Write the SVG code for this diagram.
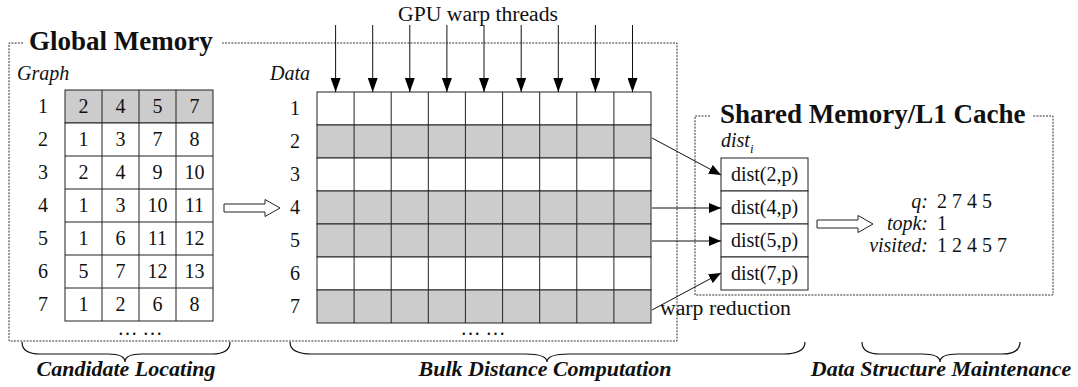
<svg xmlns="http://www.w3.org/2000/svg" width="1078" height="387" viewBox="0 0 1078 387" font-family="'Liberation Serif','DejaVu Serif',serif">
<defs>
<style>
text{font-family:'Liberation Serif','DejaVu Serif',serif;fill:#111}
.t{font-size:20px}
.c{text-anchor:middle}
.it{font-style:italic}
.ttl{font-size:27px;font-weight:bold}
.bl{font-size:22px;font-weight:bold;font-style:italic;text-anchor:middle}
.dot{fill:none;stroke:#333;stroke-width:1;stroke-dasharray:2 1.2}
.cell{stroke:#222;stroke-width:1}
.w{fill:#fff}
.g{fill:#cccccc}
.ln{stroke:#111;stroke-width:1;fill:none}
.blk{fill:#fff;stroke:#222;stroke-width:1}
.br{fill:none;stroke:#111;stroke-width:1.2}
</style>
<marker id="ah" viewBox="0 0 12 10" refX="12" refY="5" markerWidth="12" markerHeight="10" markerUnits="userSpaceOnUse" orient="auto">
<path d="M0,0 L12,5 L0,10 Z" fill="#000"/>
</marker>
<marker id="ahL" viewBox="0 0 14 10" refX="14" refY="5" markerWidth="14" markerHeight="10" markerUnits="userSpaceOnUse" orient="auto">
<path d="M0,0 L14,5 L0,10 Z" fill="#000"/>
</marker>
</defs>
<rect width="1078" height="387" fill="#fff"/>

<g id="global-memory">
<path class="dot" d="M23,43 L9,43 L9,341 L677,341 L677,43 L222,43"/>
<text class="ttl" x="29" y="50">Global Memory</text>
</g>

<g id="graph-table">
<text class="t it" x="17" y="80">Graph</text>
<rect class="cell g" x="65" y="90" width="148" height="33"/>
<rect class="cell w" x="65" y="123" width="148" height="198"/>
<path class="cell" d="M102,90 V321 M139,90 V321 M176,90 V321 M65,156 H213 M65,189 H213 M65,222 H213 M65,255 H213 M65,288 H213"/>
<g class="t c">
<text x="43" y="113">1</text><text x="83.5" y="113">2</text><text x="120.5" y="113">4</text><text x="157.5" y="113">5</text><text x="194.5" y="113">7</text>
<text x="43" y="146">2</text><text x="83.5" y="146">1</text><text x="120.5" y="146">3</text><text x="157.5" y="146">7</text><text x="194.5" y="146">8</text>
<text x="43" y="179">3</text><text x="83.5" y="179">2</text><text x="120.5" y="179">4</text><text x="157.5" y="179">9</text><text x="194.5" y="179">10</text>
<text x="43" y="212">4</text><text x="83.5" y="212">1</text><text x="120.5" y="212">3</text><text x="157.5" y="212">10</text><text x="194.5" y="212">11</text>
<text x="43" y="245">5</text><text x="83.5" y="245">1</text><text x="120.5" y="245">6</text><text x="157.5" y="245">11</text><text x="194.5" y="245">12</text>
<text x="43" y="278">6</text><text x="83.5" y="278">5</text><text x="120.5" y="278">7</text><text x="157.5" y="278">12</text><text x="194.5" y="278">13</text>
<text x="43" y="311">7</text><text x="83.5" y="311">1</text><text x="120.5" y="311">2</text><text x="157.5" y="311">6</text><text x="194.5" y="311">8</text>
<text x="140" y="335">… …</text>
</g>
</g>

<g id="data-grid">
<text class="t it" x="270" y="80">Data</text>
<rect class="cell w" x="317" y="92" width="334" height="33"/>
<rect class="cell g" x="317" y="125" width="334" height="33"/>
<rect class="cell w" x="317" y="158" width="334" height="33"/>
<rect class="cell g" x="317" y="191" width="334" height="33"/>
<rect class="cell g" x="317" y="224" width="334" height="33"/>
<rect class="cell w" x="317" y="257" width="334" height="33"/>
<rect class="cell g" x="317" y="290" width="334" height="33"/>
<path class="cell" d="M354.1,92 V323 M391.2,92 V323 M428.3,92 V323 M465.4,92 V323 M502.6,92 V323 M539.7,92 V323 M576.8,92 V323 M613.9,92 V323"/>
<g class="t c">
<text x="295" y="115">1</text><text x="295" y="148">2</text><text x="295" y="181">3</text><text x="295" y="214">4</text><text x="295" y="247">5</text><text x="295" y="280">6</text><text x="295" y="313">7</text>
<text x="483" y="335">… …</text>
</g>
</g>

<g id="gpu-threads">
<text class="t" x="398" y="21" font-size="21" textLength="160" lengthAdjust="spacingAndGlyphs">GPU warp threads</text>
</g>

<g id="shared-memory">
<path class="dot" d="M710,116 L695,116 L695,295 L1053,295 L1053,116 L1033,116"/>
<text class="ttl" x="720" y="123" font-size="26.5">Shared Memory/L1 Cache</text>
</g>

<g id="dist-boxes">
<text class="t it" x="721" y="147">dist<tspan font-size="13" dy="6">i</tspan></text>
<rect class="cell w" x="721" y="158" width="87" height="33"/>
<rect class="cell w" x="721" y="191" width="87" height="33"/>
<rect class="cell w" x="721" y="224" width="87" height="33"/>
<rect class="cell w" x="721" y="257" width="87" height="33"/>
<g class="t c">
<text x="764.5" y="181">dist(2,p)</text>
<text x="764.5" y="214">dist(4,p)</text>
<text x="764.5" y="247">dist(5,p)</text>
<text x="764.5" y="280">dist(7,p)</text>
</g>
</g>

<g id="state">
<g class="t" text-anchor="end">
<text class="it" x="928" y="208">q:</text>
<text class="it" x="928" y="230">topk:</text>
<text class="it" x="928" y="252">visited:</text>
</g>
<g class="t">
<text x="937" y="208">2 7 4 5</text>
<text x="937" y="230">1</text>
<text x="937" y="252">1 2 4 5 7</text>
</g>
</g>

<g id="warp-reduction">
<text class="t" x="660" y="315" font-size="21" textLength="131" lengthAdjust="spacingAndGlyphs">warp reduction</text>
</g>

<g id="connectors">
<g class="ln" marker-end="url(#ahL)">
<line x1="335.6" y1="25" x2="335.6" y2="92"/>
<line x1="372.7" y1="25" x2="372.7" y2="92"/>
<line x1="409.8" y1="25" x2="409.8" y2="92"/>
<line x1="446.9" y1="25" x2="446.9" y2="92"/>
<line x1="484" y1="25" x2="484" y2="92"/>
<line x1="521.2" y1="25" x2="521.2" y2="92"/>
<line x1="558.3" y1="25" x2="558.3" y2="92"/>
<line x1="595.4" y1="25" x2="595.4" y2="92"/>
<line x1="632.5" y1="25" x2="632.5" y2="92"/>
</g>
<g class="ln" marker-end="url(#ah)">
<line x1="652" y1="138" x2="721" y2="175"/>
<line x1="652" y1="208" x2="721" y2="208"/>
<line x1="652" y1="241" x2="721" y2="241"/>
<line x1="652" y1="310" x2="721" y2="273"/>
</g>
<path class="blk" d="M224,204 H265 V199.5 L280,208 L265,216.5 V212 H224 Z"/>
<path class="blk" d="M817,220 H858 V215.5 L873,224 L858,232.5 V228 H817 Z"/>
</g>

<g id="braces">
<path class="br" d="M22,342 Q22,354 40,354 L108,354 Q125,354 125,362 Q125,354 142,354 L212,354 Q230,354 230,342"/>
<path class="br" d="M290,342 Q290,354 312,354 L525,354 Q547,354 547,362 Q547,354 569,354 L783,354 Q805,354 805,342"/>
<path class="br" d="M862,342 Q862,354 880,354 L922,354 Q940,354 940,362 Q940,354 958,354 L1002,354 Q1020,354 1020,342"/>
<text class="bl" x="126" y="376">Candidate Locating</text>
<text class="bl" x="545" y="376">Bulk Distance Computation</text>
<text class="bl" x="941" y="376">Data Structure Maintenance</text>
</g>
</svg>
